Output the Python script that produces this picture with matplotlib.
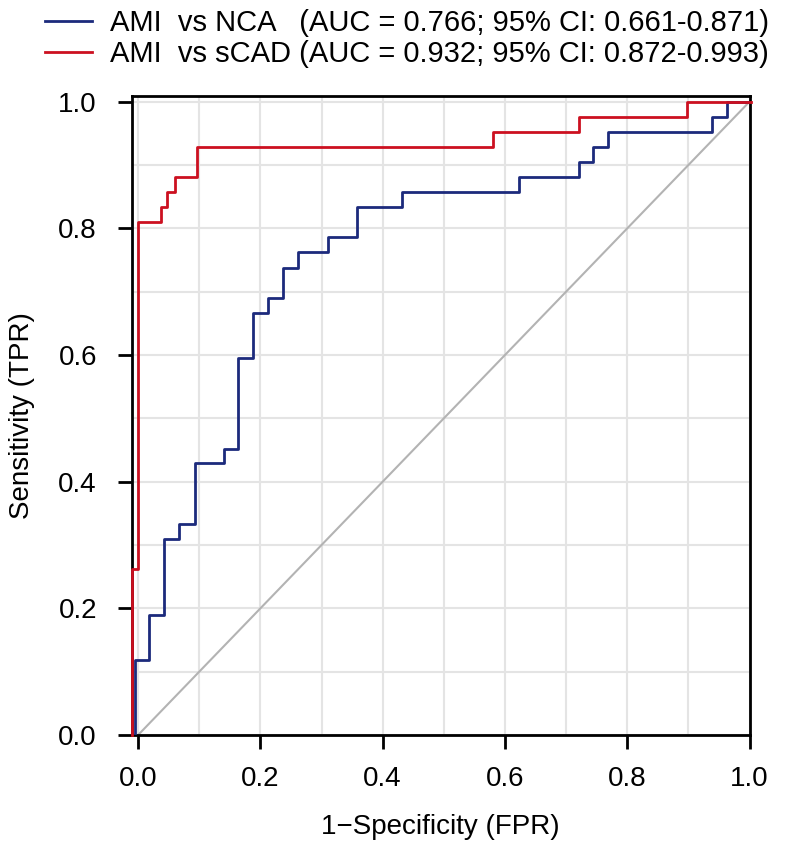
import numpy as np
import matplotlib
matplotlib.use("Agg")
import matplotlib.pyplot as plt

plt.rcParams["font.family"] = ["Liberation Sans", "DejaVu Sans"]

# ROC step points (FPR, TPR)
nca_fpr = [-0.005, -0.005, 0.018, 0.018, 0.042, 0.042, 0.067, 0.067, 0.093, 0.093,
           0.140, 0.140, 0.164, 0.164, 0.188, 0.188, 0.213, 0.213, 0.237, 0.237,
           0.262, 0.262, 0.311, 0.311, 0.358, 0.358, 0.431, 0.431, 0.623, 0.623,
           0.721, 0.721, 0.744, 0.744, 0.769, 0.769, 0.938, 0.938, 0.963, 0.963, 1.0]
nca_tpr = [0.0, 0.119, 0.119, 0.190, 0.190, 0.310, 0.310, 0.333, 0.333, 0.429,
           0.429, 0.452, 0.452, 0.595, 0.595, 0.667, 0.667, 0.690, 0.690, 0.738,
           0.738, 0.762, 0.762, 0.786, 0.786, 0.833, 0.833, 0.857, 0.857, 0.881,
           0.881, 0.905, 0.905, 0.929, 0.929, 0.952, 0.952, 0.976, 0.976, 1.0, 1.0]

scad_fpr = [-0.01, -0.01, 0.0, 0.0, 0.037, 0.037, 0.048, 0.048, 0.061, 0.061,
            0.096, 0.096, 0.580, 0.580, 0.721, 0.721, 0.898, 0.898, 1.003]
scad_tpr = [0.0, 0.262, 0.262, 0.810, 0.810, 0.833, 0.833, 0.857, 0.857, 0.881,
            0.881, 0.929, 0.929, 0.952, 0.952, 0.976, 0.976, 1.0, 1.0]

labels = ["AMI  vs NCA   (AUC = 0.766; 95% CI: 0.661-0.871)",
          "AMI  vs sCAD (AUC = 0.932; 95% CI: 0.872-0.993)"]
colors = ["#1c2a7c", "#cc1020"]

ticks = [0.0, 0.2, 0.4, 0.6, 0.8, 1.0]
grid = np.arange(0, 1.01, 0.1)

fig = plt.figure(figsize=(7.87, 8.51), dpi=100)
ax = fig.add_axes([131.7 / 787, 1 - 735 / 851, (749.5 - 131.7) / 787, (735 - 95.7) / 851])

for g in grid:
    ax.axvline(g, color="#e4e4e4", lw=1.5, zorder=0)
    ax.axhline(g, color="#e4e4e4", lw=1.5, zorder=0)

ax.plot([0, 1], [0, 1], color="#b3b3b3", lw=1.5, zorder=1)
l1, = ax.plot(nca_fpr, nca_tpr, color=colors[0], lw=2.0, zorder=3)
l2, = ax.plot(scad_fpr, scad_tpr, color=colors[1], lw=2.0, zorder=4, clip_on=False)

ax.set_xlim(-0.0105, 1.0)
ax.set_ylim(0, 1.0095)
for s in ax.spines.values():
    s.set_linewidth(2.0)
    s.set_color("black")

ax.set_xticks(ticks)
ax.set_yticks(ticks)
ax.set_xticklabels([f"{t:.1f}" for t in ticks])
ax.set_yticklabels([f"{t:.1f}" for t in ticks])
ax.tick_params(length=10, width=2.0, labelsize=20)
ax.tick_params(axis="x", pad=12)
ax.tick_params(axis="y", pad=15)

ax.set_xlabel("1\u2212Specificity (FPR)", fontsize=20, labelpad=16)
ax.set_ylabel("Sensitivity (TPR)", fontsize=20, labelpad=17)

fig.legend([l1, l2], labels, loc="upper right", bbox_to_anchor=(1.01, 1.02),
           frameon=False, fontsize=21, handlelength=1.6, handletextpad=0.6,
           labelspacing=0.1)

fig.savefig("out.png", dpi=100)
